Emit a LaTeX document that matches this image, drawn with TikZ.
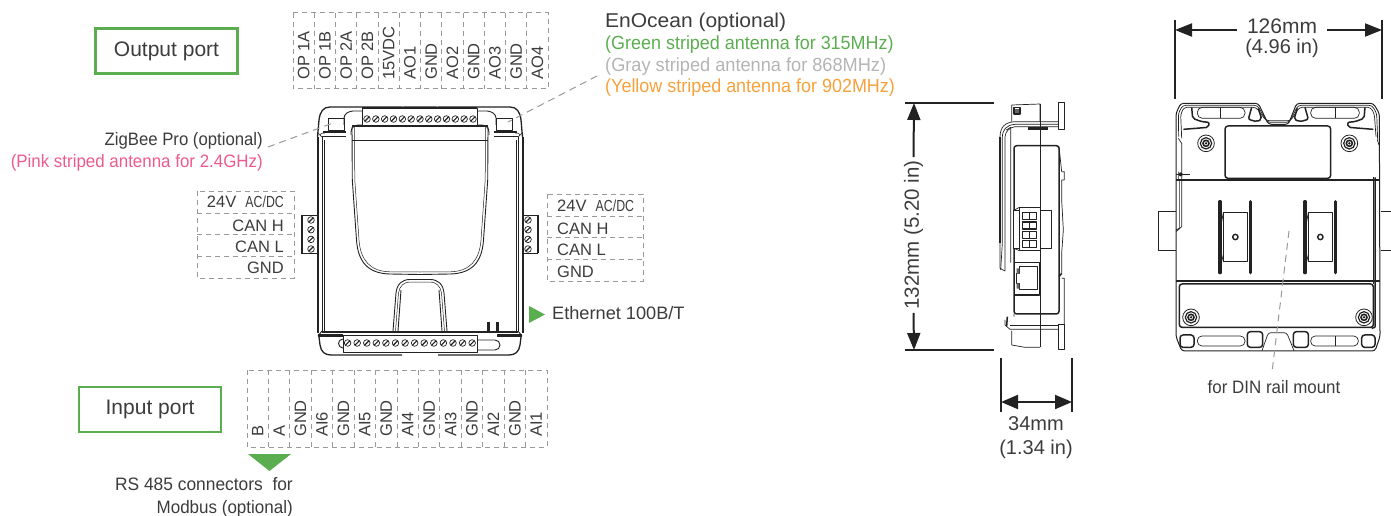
\documentclass[tikz,border=0pt]{standalone}
\usepackage{fontspec}
\setmainfont{Liberation Sans}
\usetikzlibrary{arrows.meta}
\definecolor{gr}{HTML}{5BAE4F}
\definecolor{pk}{HTML}{EE5A8C}
\definecolor{gy}{HTML}{B4B4B4}
\definecolor{og}{HTML}{F7A13C}
\definecolor{tx}{HTML}{3C3C3C}
\definecolor{dl}{HTML}{999999}
\definecolor{ln}{HTML}{222222}
\newcommand\fs[1]{\fontsize{#1}{#1}\selectfont}
\newcommand\screw[2]{\draw[ln,line width=.7pt,fill=white] (#1,#2) circle (3.3);\draw[ln,line width=1.1pt] (#1-2.2,#2+2.2) -- (#1+2.2,#2-2.2);}
\newcommand\bolt[2]{\draw[ln,line width=.8pt] (#1,#2) circle (25);\draw[ln,line width=1.2pt] (#1,#2) circle (17);\draw[ln,line width=1.6pt] (#1,#2) circle (9);\fill[ln] (#1,#2) circle (4);}
\tikzset{
  lab/.style={text=tx,inner sep=0pt,font=\fs{20}},
  txt/.style 2 args={text=tx,inner sep=0pt,font=\fs{#1}\addfontfeature{FakeStretch=#2}},
  pin/.style={text=tx,inner sep=0pt,font=\fs{16.5},rotate=90,anchor=west},
  rowl/.style={text=tx,inner sep=0pt,font=\fs{16.5},anchor=base},
  grid/.style={dl,line width=1pt,dash pattern=on 5pt off 4pt},
  leader/.style={dl,line width=1pt,dash pattern=on 7pt off 5pt},
  portbox/.style={draw=gr,line width=2.6pt,inner sep=0pt,font=\fs{21},text=tx},
  dev/.style={ln,line width=.9pt,line join=round},
  devt/.style={ln,line width=.5pt,line join=round},
  devb/.style={ln,line width=2pt,line join=round},
  dim/.style={ln,line width=2pt},
  dimar/.style={ln,line width=2pt,-{Triangle[length=17pt,width=13pt]}},
  side/.style={ln,line width=.7pt,line join=round},
  sideb/.style={ln,line width=1.5pt,line join=round},
}
\begin{document}
\begin{tikzpicture}[x=1pt,y=-1pt]
\path[use as bounding box] (0,0) rectangle (1391,516);
% ---------- port boxes
\node[portbox,minimum width=142pt,minimum height=45pt] (outbox) at (166.5,51) {\raisebox{-1.5pt}{Output port}};
\node[portbox,minimum width=142pt,minimum height=45pt] (inbox) at (150,409.5) {\raisebox{-1.5pt}{Input port}};
% ---------- top pin grid
\draw[grid] (293,13) rectangle (548,89);
\foreach \i in {1,...,11} {\draw[grid] ({293+21.25*\i},13) -- ({293+21.25*\i},89);}
\foreach \t [count=\i from 0] in {OP 1A,OP 1B,OP 2A,OP 2B,15VDC,AO1,GND,AO2,GND,AO3,GND,AO4}
  {\node[pin] (top\i) at ({303.6+21.25*\i},80) {\t};}
% ---------- bottom pin grid
\draw[grid] (247,370) rectangle (547,447);
\foreach \i in {1,...,13} {\draw[grid] ({247+21.43*\i},370) -- ({247+21.43*\i},447);}
\foreach \t [count=\i from 0] in {B,A,GND,AI6,GND,AI5,GND,AI4,GND,AI3,GND,AI2,GND,AI1}
  {\node[pin] (bot\i) at ({257.7+21.43*\i},437) {\t};}
% ---------- left grid
\draw[grid] (197,191) rectangle (294,278);
\foreach \y in {213,234.5,256} {\draw[grid] (197,\y) -- (294,\y);}
\node[rowl,anchor=base east] (la) at (284,207) {24V\ \ {\fs{16}\addfontfeature{FakeStretch=.77}AC/DC}};
\node[rowl,anchor=base east] (lb) at (284,231) {CAN H};
\node[rowl,anchor=base east] (lc) at (284,252) {CAN L};
\node[rowl,anchor=base east] (ld) at (284,273) {GND};
% ---------- right grid
\draw[grid] (547,194) rectangle (643,281);
\foreach \y in {216,237,259} {\draw[grid] (547,\y) -- (643,\y);}
\node[rowl,anchor=base west] (ra) at (557,211) {24V\ \ {\fs{16}\addfontfeature{FakeStretch=.77}AC/DC}};
\node[rowl,anchor=base west] (rb) at (557,234) {CAN H};
\node[rowl,anchor=base west] (rc) at (557,255) {CAN L};
\node[rowl,anchor=base west] (rd) at (557,277) {GND};
% ---------- texts
\node[txt={20}{1.05},anchor=base west] (eo0) at (605,28) {EnOcean (optional)};
\node[txt={19}{.945},anchor=base west,text=gr] (eo1) at (605,50) {(Green striped antenna for 315MHz)};
\node[txt={19}{.957},anchor=base west,text=gy] (eo2) at (605,72) {(Gray striped antenna for 868MHz)};
\node[txt={19}{.945},anchor=base west,text=og] (eo3) at (605,93) {(Yellow striped antenna for 902MHz)};
\node[txt={18}{.93},anchor=base east] (zb0) at (263,145) {ZigBee Pro (optional)};
\node[txt={18}{.94},anchor=base east,text=pk] (zb1) at (263,167) {(Pink striped antenna for 2.4GHz)};
\node[txt={18}{1.01},anchor=base west] (eth) at (552,319) {Ethernet 100B/T};
\node[txt={18}{.965},anchor=base east] (rs0) at (293,490) {RS 485 connectors\ \ for};
\node[txt={18}{.945},anchor=base east] (rs1) at (293,513) {Modbus (optional)};
\node[txt={18}{.94},anchor=base] (din) at (1274,393) {for DIN rail mount};
% ---------- green triangles
\fill[gr] (529,306) -- (545,314.5) -- (529,323) -- cycle;
\fill[gr] (248,454) -- (291,454) -- (269.5,471) -- cycle;
% ---------- front view
\begin{scope}
\foreach \m in {0,1}{
\begin{scope}[shift={(840*\m,0)},xscale={1-2*\m}]
  \draw[dev,line width=1.3pt] (402,107) -- (330,107) .. controls (323,107) and (320,112) .. (319,120) -- (317.5,137);
  \draw[devb] (317.5,137) -- (317.5,333);
  \draw[dev] (322,137) -- (322,331);
  \draw[devt] (324,140) -- (324,331);
  \draw[dev,rounded corners=3pt] (344,125) -- (344,115) -- (350,111) -- (362,111);
  \draw[dev] (328,118) rectangle (344,130);
  \draw[devb,line width=2.6pt] (323,132) -- (346,132);
  \draw[devt] (322,137) -- (318,133) (320,136) arc (180:300:3);
  \draw[dev] (322,136) -- (346,136);
  \draw[dev,rounded corners=3pt] (362,125) -- (355,125) -- (351,129) -- (351,135);
  % hood
  \draw[dev] (352,127) -- (352.3,180) -- (356.5,240) .. controls (358,262) and (368,273.5) .. (390,274) -- (420,274.5);
  \draw[devt] (354.5,127) -- (354.8,180) -- (359,240) .. controls (360.5,260) and (370,271.5) .. (390,271.8) -- (420,272);
  \draw[devb] (352,126) -- (420,126);
  \draw[devt] (352,140) -- (420,140);
  % tab
  \draw[dev] (393,331) -- (396,293) .. controls (397,284) and (402,279.5) .. (410,279.5) -- (420,279.5);
  \draw[devt] (395.5,331) -- (398.5,293) .. controls (399.5,286) and (404,282) .. (410,282) -- (420,282);
  \draw[dev] (401,290) -- (398,331);
  % base
  \draw[devb] (322,332) -- (420,332);
  \draw[devb,line width=2.2pt] (318,335.5) -- (343,335.5);
  \draw[dev] (322,331) -- (318,336);
  \draw[dev,line width=1.3pt] (319,337) -- (320,345) .. controls (321,352) and (325,355) .. (331,355) -- (402,355);
\end{scope}
}
% top band and strip
\fill[ln] (402,106.5) -- (410,108) -- (430,108) -- (438,106.5) -- cycle;
\draw[devb] (362,108) -- (477,108);
\draw[dev] (362,108) rectangle (477,125);
\draw[devb] (352,126) -- (488,126);
\foreach \i in {0,...,12} {\pgfmathsetmacro\xx{367+8.83*\i}\screw{\xx}{119}}
% II marks
\draw[ln,line width=2.6pt] (488.5,322) -- (488.5,331) (497.5,322) -- (497.5,331);
% bottom strip
\draw[devb,line width=1.6pt] (343,352) -- (477,352);
\draw[dev,fill=white] (343,335) rectangle (477,352);
\draw[dev] (343,348) arc (90:270:4.5);
\draw[dev] (477,340) -- (495,340) arc (-90:90:5) -- (477,350);
\foreach \i in {0,...,13} {\pgfmathsetmacro\xx{347.6+9.58*\i}\screw{\xx}{343}}
% side terminals
\draw[devb] (302,215) -- (302,253);
\draw[dev] (301,215) -- (317,215) (301,253) -- (317,253);
\foreach \y in {220,229.7,239.4,249} {\screw{311}{\y}}
\draw[devb] (538,215) -- (538,253);
\draw[dev] (522,215) -- (538,215) (522,253) -- (538,253);
\foreach \y in {220,229.7,239.4,249} {\screw{528}{\y}}
\end{scope}
% ---------- leaders
\coordinate (zbe) at (333,123);
\coordinate (eoe) at (508,122);
\coordinate (zbs) at (268,147);
\coordinate (eos) at (597,76);
\draw[leader] (zbs) -- (zbe);
\draw[leader] (eos) -- (eoe);
% ---------- side view
\begin{scope}[shift={(890,90)},scale=.33333]
  \draw[side,line width=1pt] (505,38) rectangle (523,120);
  \draw[side,line width=1pt] (505,705) rectangle (523,778);
  \draw[side] (365,45) -- (450,42) -- (450,95) (365,45) -- (365,95);
  \draw[sideb] (372,52) rectangle (390,72);
  \fill[ln!70] (376,56) rectangle (386,68);
  \draw[side] (365,722) -- (365,765) -- (405,772) -- (450,772);
  \draw[side] (450,42) -- (450,772);
  \draw[side] (505,95) -- (375,95) .. controls (345,97) and (331,110) .. (330,140) -- (330,535) -- (345,543);
  \draw[side] (505,103) -- (375,103) .. controls (350,105) and (338,118) .. (337,140) -- (337,460);
  \draw[side] (505,110) -- (375,110) .. controls (358,112) and (346,125) .. (345,140) -- (345,543);
  \draw[side] (337,460) -- (332,540);
  \draw[side] (349,120) -- (362,112) -- (362,518);
  \draw[sideb,line width=2.4pt] (415,115) -- (475,115);
  \draw[sideb] (505,88) -- (505,105);
  \draw[sideb] (330,140) -- (330,460);
  \draw[sideb,rounded corners=2.7pt] (372,167) rectangle (507,672);
  \draw[side] (372,672) -- (372,680) (345,690) -- (345,705) -- (360,718) -- (505,718);
  \draw[sideb] (352,680) -- (350,708);
  \draw[side] (360,706) -- (505,706);
  % rear edge
  \draw[side] (507,170) -- (515,245) -- (523,245) -- (523,270) -- (515,270) -- (515,330) -- (520,420) -- (515,490) -- (515,550) (515,565) -- (523,565) -- (523,705);
  \draw[sideb] (507,560) -- (515,550);
  % terminal
  \draw[side,fill=white] (370,360) rectangle (485,475);
  \draw[side,line width=1pt,fill=white] (388,352) -- (450,352) -- (450,482) -- (388,482) -- cycle;
  \foreach \yy in {367,396,424,452}{
    \draw[sideb,fill=white] (398,\yy) rectangle (440,\yy+21);
    \draw[sideb] (418,\yy) -- (418,\yy+21);
  }
  \draw[side] (372,475) -- (388,482);
  \draw[side] (370,362) -- (388,352);
  % ethernet
  \draw[sideb] (374,518) -- (448,518) -- (448,615) -- (374,615) -- cycle;
  \draw[side,line width=1pt] (387,530) -- (443,530) -- (443,600) -- (387,600) -- (387,580) -- (378,580) -- (378,550) -- (387,550) -- cycle;
  \fill[ln!70] (380,535) rectangle (388,552) (380,580) rectangle (388,596);
\end{scope}
% ---------- rear view
\begin{scope}[shift={(1140,90)},scale=.33333]
  % tabs
  \draw[side,line width=.8pt] (108,363) -- (55,363) -- (55,480) -- (108,480);
  \draw[side,line width=.8pt] (722,363) -- (753,363) (722,480) -- (753,480);
  % outline
  \draw[side,line width=1pt,rounded corners=3pt] (108,270) -- (108,70) -- (122,40) -- (355,40) -- (385,103) -- (445,103) -- (470,40) -- (700,40) -- (718,70) -- (720,740) -- (705,783) -- (125,783) -- (108,740) -- cycle;
  \draw[side,rounded corners=3pt] (116,140) -- (115,70) -- (128,46) -- (352,46) -- (382,97) -- (448,97) -- (474,46) -- (696,46) -- (710,70) -- (713,150);
  \draw[side,rounded corners=3pt] (125,145) -- (122,72) -- (132,52) -- (348,52) -- (378,92) -- (452,92) -- (478,52) -- (692,52) -- (703,72) -- (708,140);
  \draw[side] (115,145) -- (125,160) -- (125,270) (712,150) -- (717,165);
  % upper pills
  \draw[side,rounded corners=5pt] (172,52) rectangle (315,85);
  \draw[side] (242,52) -- (242,85);
  \draw[side,rounded corners=5pt] (512,52) rectangle (658,85);
  \draw[side] (587,52) -- (587,85);
  % hooks
  \draw[sideb,rounded corners=2pt] (155,52) -- (158,85) -- (185,95) -- (208,97) -- (205,112) -- (130,118);
  \draw[sideb,rounded corners=2pt] (675,52) -- (672,85) -- (645,95) -- (622,97) -- (625,112) -- (700,118);
  \draw[sideb,rounded corners=2pt] (335,52) -- (325,88) -- (350,95) -- (365,88) -- (355,55);
  \draw[sideb,rounded corners=2pt] (495,52) -- (505,88) -- (480,95) -- (462,88) -- (472,55);
  % window
  \draw[sideb,rounded corners=3pt] (255,108) rectangle (572,265);
  \bolt{198}{160}\bolt{628}{160}\bolt{153}{682}\bolt{672}{682}
  % bands
  \draw[ln,line width=1.8pt] (108,270) -- (720,270);
  \draw[ln,line width=1.8pt] (108,572) -- (720,572);
  \draw[sideb,rounded corners=2.7pt] (118,582) -- (700,582) -- (700,712) -- (118,712) -- cycle;
  \draw[sideb] (705,262) -- (705,712) (695,715) -- (705,712);
  \draw[side] (699,262) -- (699,582);
  % left rail
  \draw[side] (115,245) -- (115,270) (125,270) -- (125,410) -- (108,425);
  \draw[side] (118,270) -- (118,415) -- (108,420);
  \draw[sideb] (108,253) -- (150,253);
  \fill[ln] (122,253) circle (6);
  % din clips
  \foreach \dx in {0,255}{
    \draw[ln,line width=3.4pt,line cap=round] (240+\dx,335) -- (240+\dx,548) (331+\dx,335) -- (331+\dx,548);
    \draw[side,line width=1pt] (250+\dx,368) rectangle (322+\dx,515);
    \draw[side] (244+\dx,400) -- (250+\dx,368) (244+\dx,490) -- (250+\dx,515);
    \draw[ln,line width=1.4pt] (286+\dx,441) circle (8);
  }
  % bottom slots
  \draw[sideb,rounded corners=3pt] (120,735) rectangle (162,772);
  \draw[sideb,rounded corners=3pt] (322,725) rectangle (368,772);
  \draw[sideb,rounded corners=3pt] (460,725) rectangle (505,772);
  \draw[sideb,rounded corners=3pt] (665,735) rectangle (705,772);
  \draw[side,rounded corners=4.6pt] (172,738) rectangle (315,768);
  \draw[side,rounded corners=4.6pt] (512,738) rectangle (655,768);
  \draw[side] (587,738) -- (587,768);
  \draw[side,rounded corners=2.7pt] (366,782) -- (385,728) -- (440,728) -- (462,782);
\end{scope}
% ---------- DIN leader
\coordinate (dina) at (1289,231);
\coordinate (dinb) at (1272,372);
\draw[leader] (dina) -- (dinb);
% ---------- dimensions 132
\node[lab,font=\fs{20.5},rotate=90,inner sep=3pt] (d132) at (913.5,235) {132mm (5.20 in)};
\coordinate (d1t) at (905,103);
\coordinate (d1tr) at (994,103);
\coordinate (d1b) at (905,350);
\coordinate (d1br) at (994,350);
\coordinate (a1t) at (914,103);
\coordinate (a1b) at (914,350);
\draw[dim] (d1t) -- (d1tr);
\draw[dim] (d1b) -- (d1br);
\draw[dimar] (d132.east) -- (a1t);
\draw[dimar] (d132.west) -- (a1b);
% ---------- dimension 34
\coordinate (t34a) at (1001,358);
\coordinate (t34b) at (1001,412);
\coordinate (t34c) at (1072,358);
\coordinate (t34d) at (1072,412);
\coordinate (a34l) at (1001,402);
\coordinate (a34r) at (1072,402);
\draw[dim] (t34a) -- (t34b);
\draw[dim] (t34c) -- (t34d);
\draw[dim,{Triangle[length=17pt,width=14pt]}-{Triangle[length=17pt,width=14pt]}] (a34l) -- (a34r);
\node[lab,anchor=base] (m34) at (1036,430) {34mm};
\node[lab,anchor=base] (i34) at (1036,454) {(1.34 in)};
% ---------- dimension 126
\coordinate (t126a) at (1175,20);
\coordinate (t126b) at (1175,99);
\coordinate (t126c) at (1382,20);
\coordinate (t126d) at (1382,99);
\coordinate (a126l) at (1175,30);
\coordinate (a126r) at (1382,30);
\draw[dim] (t126a) -- (t126b);
\draw[dim] (t126c) -- (t126d);
\node[lab,anchor=base,inner sep=10pt,font=\fs{21}] (m126) at (1282,34) {126mm};
\node[lab,anchor=base] (i126) at (1282,54) {(4.96 in)};
\draw[dimar] (m126.west |- a126l) -- (a126l);
\draw[dimar] (m126.east |- a126r) -- (a126r);
\end{tikzpicture}
\end{document}
